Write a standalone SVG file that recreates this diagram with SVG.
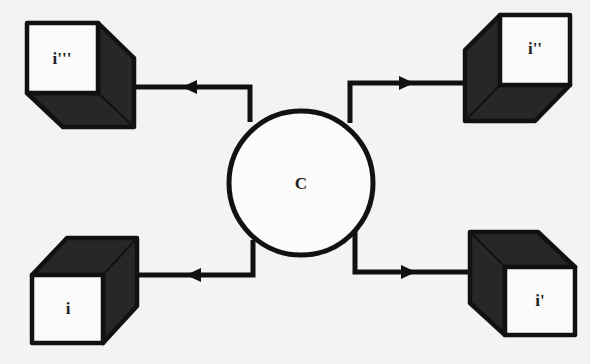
<svg xmlns="http://www.w3.org/2000/svg" width="590" height="364" viewBox="0 0 590 364">
<defs>
<style>
.face{fill:#fbfbfb;stroke:#111;stroke-width:4.5;stroke-linejoin:round}
.dark{fill:#272727;stroke:#111;stroke-width:4.5;stroke-linejoin:round}
.line{fill:none;stroke:#111;stroke-width:5;stroke-linejoin:miter}
.arrow{fill:#111}
.lbl{font-family:"Liberation Serif",serif;font-size:17px;font-weight:bold;fill:#222;text-anchor:middle}
</style>
</defs>
<rect x="0" y="0" width="590" height="364" fill="#f3f3f3"/>
<g id="connectors">
<path class="line" d="M136,87 H250 V122"/>
<polygon class="arrow" points="182,87 197,80 197,94"/>
<path class="line" d="M465,83 H350 V123"/>
<polygon class="arrow" points="414,83 399,76 399,90"/>
<path class="line" d="M138,275 H253 V240"/>
<polygon class="arrow" points="186,275 201,268 201,282"/>
<path class="line" d="M470,272 H355 V227"/>
<polygon class="arrow" points="416,272 401,265 401,279"/>
</g>
<g id="node-c">
<circle cx="301" cy="183" r="72" fill="#fbfbfb" stroke="#111" stroke-width="5"/>
<text class="lbl" x="301" y="189">C</text>
</g>
<g id="node-i3">
<polygon class="dark" points="98,23 134,58 134,127 63,127 27,93 98,93"/>
<line x1="98" y1="93" x2="134" y2="127" stroke="#111" stroke-width="2"/>
<rect class="face" x="27" y="23" width="71" height="70"/>
<text class="lbl" x="62" y="64">i'''</text>
</g>
<g id="node-i2">
<polygon class="dark" points="500,15 465,50 465,121 535,121 570,85 500,85"/>
<line x1="500" y1="85" x2="465" y2="121" stroke="#111" stroke-width="2"/>
<rect class="face" x="500" y="15" width="70" height="70"/>
<text class="lbl" x="535" y="54">i''</text>
</g>
<g id="node-i">
<polygon class="dark" points="32,275 67,238 137,238 137,306 103,343 103,275"/>
<line x1="103" y1="275" x2="137" y2="238" stroke="#111" stroke-width="2"/>
<rect class="face" x="32" y="275" width="71" height="68"/>
<text class="lbl" x="68" y="314">i</text>
</g>
<g id="node-i1">
<polygon class="dark" points="470,232 538,232 575,267 505,267 505,335 470,303"/>
<line x1="505" y1="267" x2="470" y2="232" stroke="#111" stroke-width="2"/>
<rect class="face" x="505" y="267" width="70" height="68"/>
<text class="lbl" x="540" y="306">i'</text>
</g>
</svg>
